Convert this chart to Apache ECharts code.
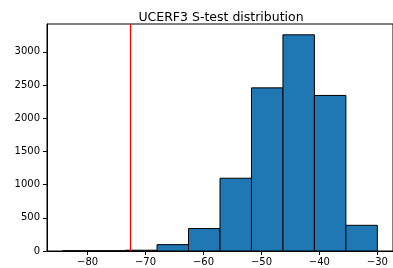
<!DOCTYPE html>
<html>
<head>
<meta charset="utf-8">
<script src="https://cdn.jsdelivr.net/npm/echarts@6/dist/echarts.min.js"></script>
<style>
  html, body { margin: 0; padding: 0; background: #fff; }
  #chart { width: 393px; height: 268px; }
</style>
</head>
<body>
<div id="chart"></div>
<script>
// histogram bins (10 bins between min and max of the simulated statistic)
const binEdges = [-84.3, -78.87, -73.44, -68.01, -62.58, -57.15, -51.72, -46.29, -40.86, -35.43, -30.0]
const counts = [2, 3, 12, 96, 338, 1096, 2457, 3256, 2343, 387]
const observed = -72.7 // red line
const xTicks = [-80, -70, -60, -50, -40, -30]

const bars = counts.map((c, i) => [binEdges[i], binEdges[i + 1], c])

const fmt = v => String(v).replace('-', '\u2212')

const myChart = echarts.init(document.getElementById('chart'))
const option = {
  animation: false,
  title: {
    text: 'UCERF3 S-test distribution',
    left: 216,
    textAlign: 'center',
    top: 6,
    textStyle: {
      fontFamily: 'DejaVu Sans',
      fontSize: 12.5,
      fontWeight: 'normal',
      color: '#000'
    }
  },
  grid: {
    left: 47,
    right: -2,
    top: 24,
    bottom: 17,
    show: true,
    borderColor: '#000',
    borderWidth: 1,
    backgroundColor: 'transparent'
  },
  xAxis: {
    type: 'value',
    min: -87.0,
    max: -27.3,
    axisLine: { show: true, onZero: false, lineStyle: { color: '#000', width: 1 } },
    axisTick: { show: true, length: 4, customValues: xTicks, lineStyle: { color: '#000' } },
    axisLabel: {
      customValues: xTicks,
      formatter: fmt,
      fontFamily: 'DejaVu Sans',
      fontSize: 10,
      color: '#000',
      margin: 6
    },
    splitLine: { show: false }
  },
  yAxis: {
    type: 'value',
    min: 0,
    max: 3419,
    interval: 500,
    axisLine: { show: true, lineStyle: { color: '#000', width: 1 } },
    axisTick: { show: true, length: 4, lineStyle: { color: '#000' } },
    axisLabel: {
      formatter: v => String(v),
      fontFamily: 'DejaVu Sans',
      fontSize: 10,
      color: '#000',
      margin: 7,
      showMaxLabel: false
    },
    splitLine: { show: false }
  },
  series: [
    {
      type: 'custom',
      data: bars,
      encode: { x: [0, 1], y: 2 },
      renderItem: function (params, api) {
        const p0 = api.coord([api.value(0), api.value(2)])
        const p1 = api.coord([api.value(1), 0])
        return {
          type: 'rect',
          shape: { x: p0[0], y: p0[1], width: p1[0] - p0[0], height: p1[1] - p0[1] },
          style: { fill: '#1f77b4', stroke: '#000', lineWidth: 1 }
        }
      },
      markLine: {
        silent: true,
        symbol: 'none',
        label: { show: false },
        lineStyle: { color: '#ff0000', width: 1.2, type: 'solid' },
        data: [{ xAxis: observed }]
      }
    }
  ]
}
myChart.setOption(option)
</script>
</body>
</html>
